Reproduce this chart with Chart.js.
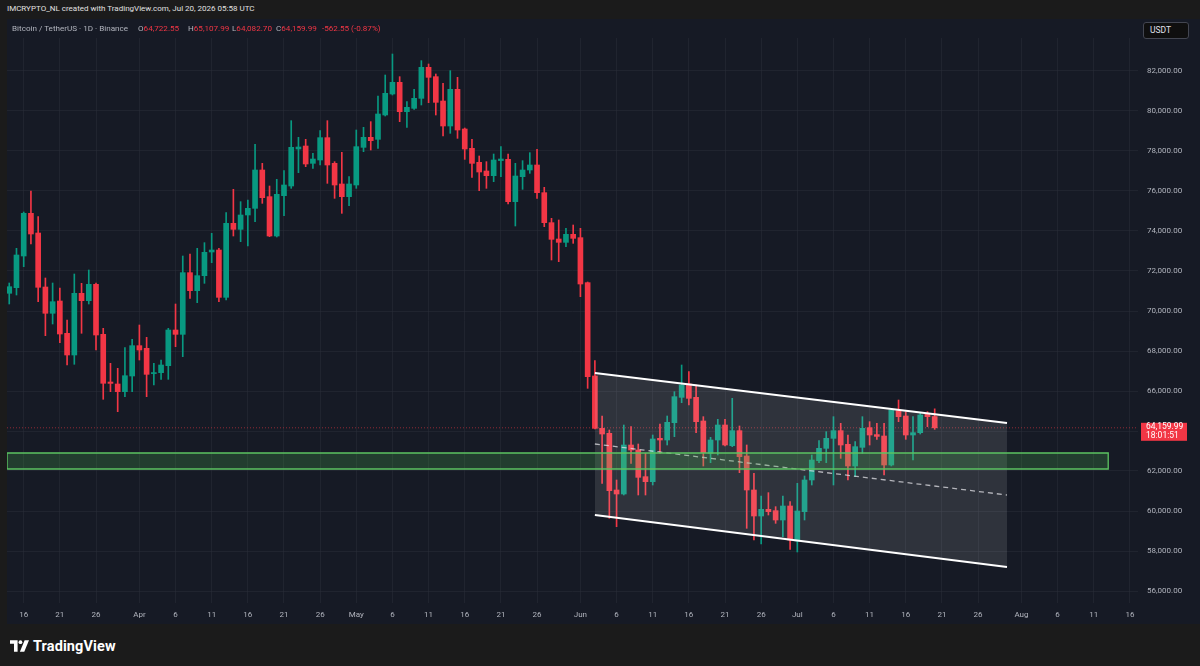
<!DOCTYPE html>
<html>
<head>
<meta charset="utf-8">
<script src="https://cdn.jsdelivr.net/npm/chart.js@4.4.0/dist/chart.umd.min.js"></script>
<style>
  html, body { margin: 0; padding: 0; width: 1200px; height: 666px; overflow: hidden; background: #1b1b1b; font-family: Roboto, "Noto Sans", sans-serif; }
  #top { position: absolute; left: 7px; top: 4px; font-size: 8px; color: #e0e0e0; white-space: nowrap; }
  #panel { position: absolute; left: 7px; top: 19px; width: 1193px; height: 605px; background: #161a25; }
  #chart { position: absolute; left: 0; top: 0; }
  #legend span { position: absolute; top: 4px; font-size: 8.1px; color: #b2b5be; white-space: nowrap; }
  #legend b { font-weight: normal; color: #f23645; }
  #unit { position: absolute; left: 1136px; top: 3px; width: 46px; height: 17px; box-sizing: border-box; border: 1px solid #434651; border-radius: 3px; background: #0f0f0f; color: #e0e3eb; font-size: 8.5px; line-height: 15px; padding-left: 6px; }
  #footer { position: absolute; left: 10px; top: 636px; height: 20px; display: flex; align-items: center; }
  #footer span { color: #ffffff; font-weight: bold; font-size: 14.5px; margin-left: 4px; letter-spacing: 0.1px; }
</style>
</head>
<body>
<div id="top">IMCRYPTO_NL created with TradingView.com, Jul 20, 2026 05:58 UTC</div>
<div id="panel">
  <canvas id="chart" width="1193" height="605"></canvas>
  <div id="legend">
    <span style="left:5px">Bitcoin / TetherUS · 1D · Binance</span>
    <span style="left:131px">O<b>64,722.55</b></span>
    <span style="left:181px">H<b>65,107.99</b></span>
    <span style="left:225px">L<b>64,082.70</b></span>
    <span style="left:269px">C<b>64,159.99</b></span>
    <span style="left:315px"><b>-562.55 (-0.87%)</b></span>
  </div>
  <div id="unit">USDT</div>
</div>
<div id="footer">
  <svg width="19" height="12" viewBox="0 0 20 12">
    <path d="M0 0h8v12H4.2V3.6H0z" fill="#ffffff"/>
    <circle cx="11" cy="2" r="2" fill="#ffffff"/>
    <path d="M15.4 0H20l-5 12h-4.6z" fill="#ffffff"/>
  </svg>
  <span>TradingView</span>
</div>
<script>
// daily candles, Mar 14 -> Jul 20 (index 0 = Mar 14)
const opens = [70885, 71165, 72750, 74885, 73900, 71200, 69885, 70500, 68885, 67800,
  70885, 70515, 71335, 68835, 66450, 66350, 65965, 66750, 68267, 68133,
  66870, 66917, 67267, 69050, 68833, 71917, 71017, 71767, 72950, 73050,
  70683, 74383, 74083, 74800, 75133, 77050, 75717, 73750, 75767, 76250,
  78100, 78250, 77383, 77550, 78667, 77383, 76350, 75717, 76300, 78183,
  78683, 78583, 79800, 80850, 81433, 79967, 80133, 80633, 82183, 81717,
  80500, 79250, 81083, 79100, 78133, 77433, 77000, 76767, 77520, 77583,
  75467, 76717, 77050, 77300, 75917, 74417, 73600, 73433, 73833, 73667,
  71417, 66750, 64133, 63883, 61050, 60850, 63300, 63050, 61717, 61467,
  63633, 63550, 64417, 65683, 66350, 65683, 64500, 62883, 63550, 64300,
  63267, 64017, 62750, 61050, 59750, 60083, 60017, 59550, 60250, 58500,
  59967, 61550, 62517, 63133, 63633, 64017, 63333, 62250, 63183, 64167,
  63820, 63750, 62300, 65017, 64750, 63800, 63917, 64850, 64722.55];
const highs = [71400, 73135, 74950, 76000, 74715, 71650, 71400, 71150, 69550, 71850,
  71385, 72050, 71400, 69135, 67385, 67135, 68165, 68583, 69300, 68683,
  67383, 67550, 69133, 70350, 72750, 72850, 73133, 73417, 73883, 73133,
  74917, 76083, 75467, 75550, 78333, 77383, 76250, 76583, 77017, 79517,
  78683, 78583, 77883, 79017, 79517, 77467, 77933, 76717, 79050, 79183,
  79467, 80750, 81800, 82850, 81717, 80467, 81083, 82517, 82350, 81850,
  81383, 82017, 81683, 79150, 78583, 77750, 77467, 77850, 78217, 77850,
  77383, 77517, 77917, 78083, 76183, 74633, 74550, 74133, 74300, 74133,
  71450, 67517, 64750, 64050, 61550, 64300, 64217, 63350, 62883, 63800,
  64350, 64750, 65967, 67300, 66967, 66300, 64717, 63683, 64583, 64583,
  65633, 64250, 63300, 61883, 60750, 60917, 60217, 60750, 60467, 61383,
  61750, 62800, 63517, 63967, 64717, 64383, 63800, 63467, 64717, 64467,
  64383, 64383, 65133, 65550, 64967, 64717, 64917, 64967, 65107.99];
const lows = [70350, 70800, 72215, 73350, 70465, 68765, 69350, 68415, 67300, 67335,
  68885, 70350, 68050, 65585, 65965, 64965, 65715, 65967, 67550, 65717,
  66300, 66583, 66583, 68217, 67717, 70633, 70417, 71383, 72417, 70467,
  70550, 73750, 73467, 73250, 74467, 75383, 73717, 73700, 74767, 76133,
  76917, 77217, 77133, 77300, 76383, 75633, 74883, 75267, 76133, 77967,
  78050, 78133, 79750, 80800, 79467, 79183, 80083, 80300, 80417, 79800,
  78750, 78883, 78633, 77583, 76683, 76017, 76133, 76467, 76717, 75350,
  74250, 76083, 76883, 75633, 74217, 72550, 72467, 73217, 73383, 70717,
  66133, 64100, 61383, 59633, 59217, 60800, 62383, 60800, 60800, 61300,
  62883, 63300, 63717, 65417, 65300, 63917, 62250, 62417, 62800, 63250,
  63217, 61917, 59133, 58550, 58350, 59800, 59383, 58717, 58083, 57950,
  59550, 61300, 62417, 62417, 61300, 62633, 61550, 61717, 62883, 63300,
  63583, 61800, 62250, 64467, 63583, 62550, 63850, 64217, 64082.70];
const closes = [71215, 72800, 74885, 73850, 71185, 69885, 70465, 68850, 67800, 70885,
  70515, 71335, 68800, 66385, 66380, 65965, 66765, 68267, 68050, 66833,
  66920, 67300, 69050, 68833, 71917, 71017, 71767, 72933, 73050, 70683,
  74383, 74083, 74800, 75133, 77050, 75667, 73750, 75833, 76300, 78183,
  78200, 77350, 77600, 78667, 77300, 76300, 75717, 76350, 78217, 78683,
  78517, 79850, 80883, 81433, 79967, 80183, 80633, 82183, 81683, 80433,
  79250, 81083, 79050, 78100, 77383, 76950, 76767, 77550, 77600, 75467,
  76750, 77050, 77300, 75917, 74417, 73583, 73433, 73833, 73633, 71350,
  66717, 64133, 63850, 61017, 60850, 63300, 63050, 61683, 61467, 63600,
  63550, 64433, 65717, 66300, 65633, 64467, 62917, 63550, 64300, 63300,
  64017, 62717, 61050, 59750, 60083, 59967, 59550, 60250, 58550, 60000,
  61550, 62550, 63133, 63633, 64017, 63300, 62250, 63217, 64133, 63800,
  63730, 62300, 65050, 64717, 63800, 63917, 64800, 64717, 64159.99];

// time axis ticks (day index from Mar 14)
const tickDays = [2, 7, 12, 18, 23, 28, 33, 38, 43, 48, 53, 58, 63, 68, 73, 79, 84, 89, 94, 99, 104, 109, 114, 119, 124, 129, 134, 140, 145, 150, 155];
const tickLabels = ['16', '21', '26', 'Apr', '6', '11', '16', '21', '26', 'May', '6', '11', '16', '21', '26', 'Jun', '6', '11', '16', '21', '26', 'Jul', '6', '11', '16', '21', '26', 'Aug', '6', '11', '16'];
const priceTicks = [56000, 58000, 60000, 62000, 64000, 66000, 68000, 70000, 72000, 74000, 76000, 78000, 80000, 82000];

// drawings (day index, price)
const channelDays = [81, 138];
const channelTop = [66900, 64400];
const channelBottom = [59800, 57200];
const channelMid = [63350, 60800];
const zoneDays = [-0.3, 152];
const zonePrice = [62100, 62900];
const lastPrice = 64159.99;
const countdown = '18:01:51';

const xMin = -0.31, xMax = 156.12;
const yMin = 55400, yMax = 83650;

const UP = '#089981';
const DOWN = '#f23645';
const candleColor = (ctx) => closes[ctx.dataIndex] >= opens[ctx.dataIndex] ? UP : DOWN;
const fmt = (v) => v.toLocaleString('en-US', { minimumFractionDigits: 2, maximumFractionDigits: 2 });

const wicks = opens.map((o, i) => ({ x: i, y: [lows[i], highs[i]] }));
const bodies = opens.map((o, i) => ({ x: i, y: [o, closes[i]] }));
const seg = (xs, ys) => xs.map((x, i) => ({ x, y: ys[i] }));

const lineBase = { type: 'line', pointRadius: 0, fill: false, tension: 0 };

const priceTag = {
  id: 'priceTag',
  afterDraw(chart) {
    const { ctx, chartArea, scales } = chart;
    const y = scales.y.getPixelForValue(lastPrice);
    const left = chartArea.right + 3;
    ctx.save();
    ctx.fillStyle = DOWN;
    ctx.fillRect(left, y - 5, 46, 18);
    ctx.fillStyle = '#ffffff';
    ctx.font = '8.5px Roboto, "Noto Sans", sans-serif';
    ctx.textBaseline = 'middle';
    ctx.fillText(fmt(lastPrice), left + 5, y - 0.5);
    ctx.fillText(countdown, left + 5, y + 8.5);
    ctx.restore();
  }
};

new Chart(document.getElementById('chart'), {
  type: 'bar',
  data: {
    datasets: [
      { ...lineBase, data: seg([xMin, xMax], [lastPrice, lastPrice]), borderColor: 'rgba(242,54,69,0.55)', borderWidth: 1, borderDash: [1, 2], order: 10 },
      { data: wicks, backgroundColor: candleColor, barThickness: 1, grouped: false, order: 9 },
      { data: bodies, backgroundColor: candleColor, barThickness: 5, minBarLength: 1, grouped: false, order: 8 },
      { ...lineBase, data: seg(channelDays, channelBottom), borderColor: '#ffffff', borderWidth: 2, order: 7 },
      { ...lineBase, data: seg(channelDays, channelTop), borderColor: '#ffffff', borderWidth: 2, fill: 3, backgroundColor: 'rgba(255,255,255,0.11)', order: 6 },
      { ...lineBase, data: seg(channelDays, channelMid), borderColor: 'rgba(225,225,230,0.75)', borderWidth: 1.3, borderDash: [5, 4], order: 5 },
      { ...lineBase, data: seg(zoneDays, [zonePrice[0], zonePrice[0]]), borderWidth: 0, order: 4 },
      { ...lineBase, data: seg(zoneDays, [zonePrice[1], zonePrice[1]]), borderWidth: 0, fill: 6, backgroundColor: 'rgba(76,175,80,0.24)', order: 3 },
      { ...lineBase, data: seg([zoneDays[0], zoneDays[1], zoneDays[1], zoneDays[0], zoneDays[0]], [zonePrice[0], zonePrice[0], zonePrice[1], zonePrice[1], zonePrice[0]]), borderColor: '#5cc462', borderWidth: 1.3, order: 2 }
    ]
  },
  options: {
    responsive: false,
    animation: false,
    events: [],
    layout: { padding: { top: 19, left: 0, right: 0, bottom: 0 } },
    plugins: { legend: { display: false }, tooltip: { enabled: false } },
    scales: {
      x: {
        type: 'linear',
        min: xMin,
        max: xMax,
        offset: false,
        grid: { color: 'rgba(42,46,57,0.55)', offset: false, drawTicks: false },
        border: { display: false },
        afterBuildTicks: (scale) => { scale.ticks = tickDays.map(v => ({ value: v })); },
        afterFit: (scale) => { scale.height = 21; },
        ticks: {
          autoSkip: false,
          maxRotation: 0,
          padding: 7,
          color: '#b2b5be',
          font: { size: 8, family: 'Roboto, "Noto Sans", sans-serif' },
          callback: (v, i) => tickLabels[i]
        }
      },
      y: {
        type: 'linear',
        position: 'right',
        min: yMin,
        max: yMax,
        beginAtZero: false,
        grid: { color: 'rgba(42,46,57,0.55)', drawTicks: false },
        border: { display: false },
        afterBuildTicks: (scale) => { scale.ticks = priceTicks.map(v => ({ value: v })); },
        afterFit: (scale) => { scale.width = 62; },
        ticks: {
          padding: 9,
          color: '#b2b5be',
          font: { size: 8, family: 'Roboto, "Noto Sans", sans-serif' },
          callback: (v) => fmt(v)
        }
      }
    }
  },
  plugins: [priceTag]
});
</script>
</body>
</html>
